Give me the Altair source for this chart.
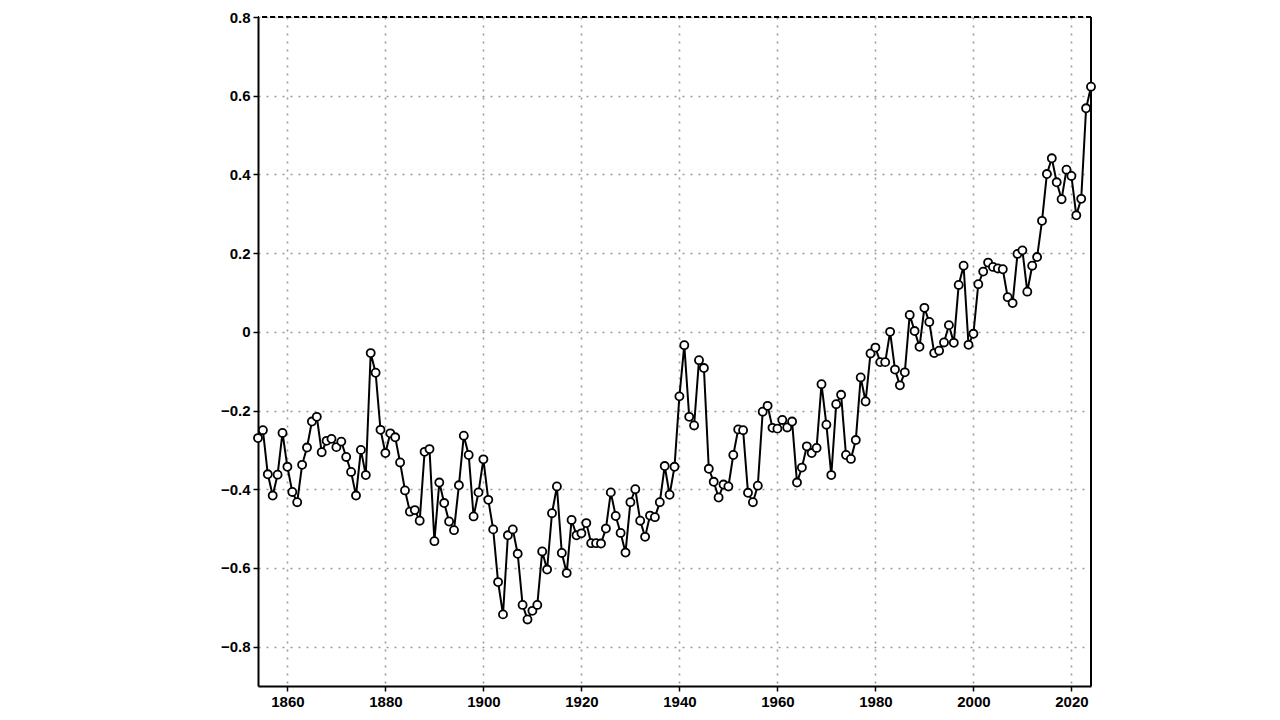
import altair as alt
import pandas as pd

years = list(range(1854, 2025))
values = [
    -0.27, -0.25, -0.362, -0.416, -0.363, -0.257, -0.343, -0.407, -0.433, -0.338,
    -0.294, -0.228, -0.216, -0.306, -0.277, -0.272, -0.293, -0.279, -0.318, -0.356,
    -0.416, -0.30, -0.364, -0.054, -0.104, -0.249, -0.308, -0.258, -0.268, -0.332,
    -0.403, -0.457, -0.453, -0.48, -0.305, -0.298, -0.532, -0.383, -0.435, -0.482,
    -0.504, -0.39, -0.264, -0.313, -0.469, -0.408, -0.324, -0.427, -0.502, -0.636,
    -0.718, -0.517, -0.502, -0.564, -0.694, -0.731, -0.709, -0.694, -0.558, -0.604,
    -0.461, -0.393, -0.562, -0.613, -0.478, -0.517, -0.512, -0.486, -0.537, -0.537,
    -0.538, -0.50, -0.408, -0.468, -0.511, -0.561, -0.433, -0.40, -0.48, -0.521,
    -0.467, -0.471, -0.433, -0.341, -0.414, -0.343, -0.164, -0.034, -0.216, -0.238,
    -0.072, -0.092, -0.348, -0.381, -0.421, -0.388, -0.393, -0.313, -0.248, -0.25,
    -0.409, -0.433, -0.391, -0.203, -0.188, -0.244, -0.246, -0.224, -0.243, -0.228,
    -0.383, -0.345, -0.291, -0.308, -0.295, -0.133, -0.236, -0.364, -0.184, -0.16,
    -0.313, -0.323, -0.275, -0.116, -0.177, -0.055, -0.04, -0.077, -0.077, 0.0,
    -0.096, -0.136, -0.103, 0.043, 0.002, -0.038, 0.061, 0.025, -0.054, -0.048,
    -0.027, 0.017, -0.028, 0.119, 0.168, -0.033, -0.005, 0.121, 0.153, 0.176,
    0.165, 0.161, 0.159, 0.088, 0.073, 0.198, 0.207, 0.102, 0.168, 0.19,
    0.282, 0.401, 0.441, 0.38, 0.337, 0.412, 0.396, 0.296, 0.338, 0.568,
    0.623,
]
x_ticks = [1860, 1880, 1900, 1920, 1940, 1960, 1980, 2000, 2020]
y_ticks = [-0.8, -0.6, -0.4, -0.2, 0.0, 0.2, 0.4, 0.6, 0.8]
x_domain = [1854, 2024]
y_domain = [-0.9, 0.8]

df = pd.DataFrame({"year": years, "value": values})

xscale = alt.Scale(domain=x_domain, nice=False, zero=False)
yscale = alt.Scale(domain=y_domain, nice=False, zero=False)

x_enc = alt.X("year:Q", scale=xscale, title=None,
              axis=alt.Axis(values=x_ticks, format="d", title=None))
y_enc = alt.Y("value:Q", scale=yscale, title=None,
              axis=alt.Axis(values=y_ticks, title=None,
                            labelExpr="datum.value == 0 ? '0' : format(datum.value, '.1f')"))

top_rule = alt.Chart(pd.DataFrame({"value": [0.8]})).mark_rule(
    color="black", strokeWidth=1.8, strokeDash=[5, 3]
).encode(y=alt.Y("value:Q", scale=yscale, title=None))

right_rule = alt.Chart(pd.DataFrame({"year": [2024]})).mark_rule(
    color="black", strokeWidth=2
).encode(x=alt.X("year:Q", scale=xscale, title=None))

line = alt.Chart(df).mark_line(color="black", strokeWidth=2).encode(x=x_enc, y=y_enc)
points = alt.Chart(df).mark_point(
    shape="circle", filled=True, fill="white", stroke="black", strokeWidth=1.8,
    size=65, opacity=1
).encode(x=x_enc, y=y_enc)

chart = alt.layer(top_rule, right_rule, line, points).properties(
    width=833, height=669,
    autosize=alt.AutoSizeParams(type="none"),
    padding={"left": 250, "top": 9, "right": 10, "bottom": 30},
).configure_view(stroke=None).configure_axis(
    grid=True, gridColor="#9a9a9a", gridDash=[2, 6], gridWidth=1.6,
    domainColor="black", domainWidth=2,
    tickColor="black", tickSize=5, tickWidth=1.5,
    labelFont="Liberation Sans", labelFontSize=15, labelFontWeight="bold",
    labelColor="black", labelPadding=3,
)

chart.save("out.html", embed_options={"renderer": "svg", "actions": False})
